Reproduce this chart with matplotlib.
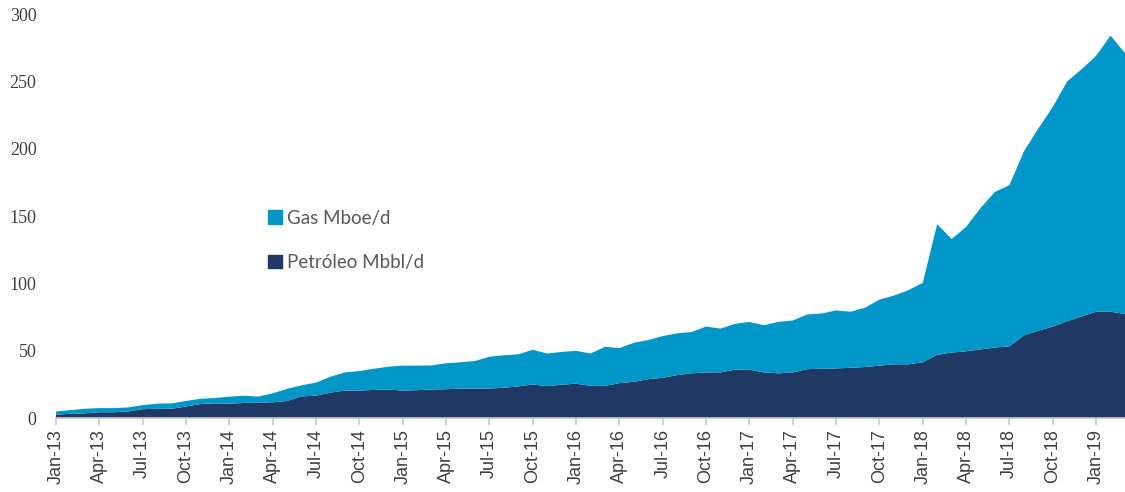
import numpy as np
import pandas as pd
import matplotlib
matplotlib.use('Agg')
from matplotlib import pyplot as plt
from matplotlib.patches import Patch

# monthly series, Jan-13 .. Mar-19
months = pd.date_range('2013-01-01', '2019-03-01', freq='MS')

petroleo = [2.6, 3.3, 3.6, 4.4, 4.4, 5.0, 6.7, 7.0, 7.0, 8.7, 10.5, 11.0,
            10.8, 11.3, 11.5, 11.8, 12.8, 16.2, 16.7, 19.0, 20.5, 20.5, 21.0, 21.3,
            20.5, 20.8, 21.3, 21.5, 22.0, 22.0, 22.0, 22.6, 23.6, 25.0, 23.8, 24.9,
            25.6, 24.0, 24.0, 26.0, 27.0, 29.0, 30.0, 32.0, 33.3, 34.0, 34.0, 36.0,
            36.0, 34.0, 33.3, 34.0, 36.4, 36.7, 37.0, 37.4, 38.0, 39.0, 40.0, 40.0,
            41.5, 47.0, 48.7, 49.7, 51.0, 52.5, 53.3, 61.5, 65.0, 68.0, 72.0, 75.6,
            79.0, 79.0, 77.4]

total = [5.0, 6.0, 7.0, 7.5, 7.5, 8.0, 9.7, 10.8, 11.0, 12.8, 14.4, 15.0,
         16.0, 16.7, 16.0, 18.5, 21.8, 24.4, 26.4, 30.8, 34.0, 35.0, 36.7, 38.2,
         39.0, 39.0, 39.2, 40.8, 41.5, 42.5, 45.6, 46.7, 47.4, 50.8, 48.0, 49.2,
         50.0, 48.0, 53.0, 52.0, 56.0, 58.0, 61.0, 63.0, 64.0, 68.0, 66.5, 70.0,
         71.5, 69.0, 71.5, 72.5, 77.0, 77.7, 80.0, 79.0, 82.0, 88.0, 91.0, 95.0,
         100.5, 144.0, 133.0, 142.0, 156.0, 168.0, 173.0, 198.0, 215.0, 231.0, 250.0, 259.0,
         269.0, 284.0, 271.0]

gas = [t - p for t, p in zip(total, petroleo)]

labels = ['Petróleo Mbbl/d', 'Gas Mboe/d']
c_oil = '#203864'
c_gas = '#0096C8'

fig = plt.figure(figsize=(11.25, 4.92), dpi=100)
ax = fig.add_axes([0.0498, 0.150, 0.9502, 0.8215])

x = np.arange(len(months))
ax.stackplot(x, petroleo, gas, colors=[c_oil, c_gas], linewidth=0)

ax.set_xlim(0, len(months) - 1)
ax.set_ylim(0, 300)
ax.set_yticks(range(0, 301, 50))
ax.set_yticklabels([str(v) for v in range(0, 301, 50)],
                   fontfamily='Liberation Serif', fontsize=13, color='#404040')

tick_pos = x[::3]
ax.set_xticks(tick_pos)
ax.set_xticklabels([months[i].strftime('%b-%y') for i in tick_pos],
                   rotation=90, fontfamily='Liberation Sans', fontsize=13, color='#404040')

for s in ['top', 'right', 'left']:
    ax.spines[s].set_visible(False)
ax.spines['bottom'].set_color('#c8c8c8')
ax.spines['bottom'].set_linewidth(1.2)
ax.tick_params(axis='x', length=5, color='#c8c8c8', width=1.2, pad=3)
ax.tick_params(axis='y', length=0, pad=14)

handles = [Patch(color=c_gas), Patch(color=c_oil)]
fig.legend(handles, [labels[1], labels[0]], loc='upper left',
           bbox_to_anchor=(0.223, 0.608), frameon=False,
           prop={'family': 'Lato', 'size': 13.5}, labelcolor='#595959',
           handlelength=0.75, handleheight=0.75, handletextpad=0.3,
           labelspacing=1.45)

fig.savefig('out.png', dpi=100)
